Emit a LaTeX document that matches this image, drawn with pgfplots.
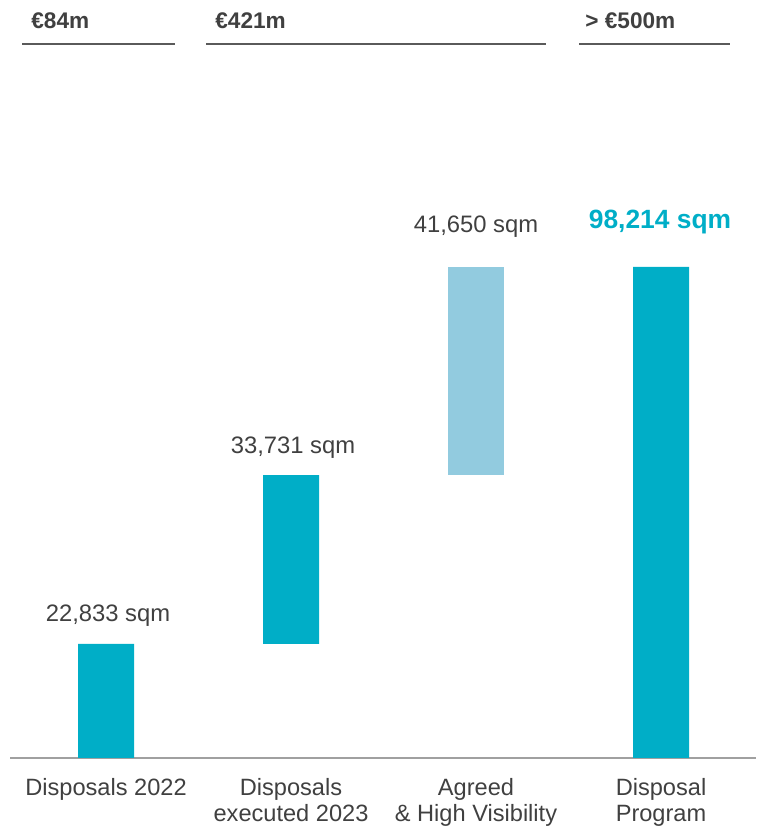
\documentclass[border=0pt]{standalone}
\usepackage{fontspec}
\setmainfont{Liberation Sans}
\usepackage{pgfplots}
\pgfplotsset{compat=1.18}
\definecolor{myteal}{RGB}{0,174,199}
\definecolor{lightb}{RGB}{146,203,223}
\definecolor{txt}{RGB}{64,64,64}
\definecolor{hline}{RGB}{90,90,90}
\definecolor{bline}{RGB}{160,160,160}
\tikzset{
  hdr/.style={font=\fontsize{11.3}{13}\selectfont\bfseries, text=txt, anchor=west, inner sep=0pt},
  val/.style={font=\fontsize{11.9}{13}\selectfont, text=txt, inner sep=0pt},
  cat/.style={font=\fontsize{11.8}{12.6}\selectfont, text=txt, inner sep=0pt, align=center, anchor=north},
}
\begin{document}
\begin{tikzpicture}
\begin{axis}[
  width=378pt, height=413.5pt, scale only axis,
  xmin=0, xmax=756, ymin=-13800, ymax=151600,
  hide axis, clip=false,
  ybar stacked, bar width=56,
]
\addplot[draw=none, fill=white, fill opacity=0] coordinates {(106,0) (291,22833) (476,56564) (661,0)};
\addplot[draw=none, fill=myteal] coordinates {(106,22833) (291,33731) (476,0) (661,98214)};
\addplot[draw=none, fill=lightb] coordinates {(106,0) (291,0) (476,41650) (661,0)};
\draw[bline, line width=1pt] (axis cs:10,0) -- (axis cs:756,0);
\draw[hline, line width=1pt] (axis cs:22,142800) -- (axis cs:175,142800);
\draw[hline, line width=1pt] (axis cs:206,142800) -- (axis cs:546,142800);
\draw[hline, line width=1pt] (axis cs:579,142800) -- (axis cs:730,142800);
\node[hdr] at (axis cs:31,147400) {€84m};
\node[hdr] at (axis cs:215,147400) {€421m};
\node[hdr] at (axis cs:585,147400) {> €500m};
\node[val] at (axis cs:108,28400) {22,833 sqm};
\node[val] at (axis cs:293,62000) {33,731 sqm};
\node[val] at (axis cs:476,106200) {41,650 sqm};
\node[font=\fontsize{13.2}{15}\selectfont\bfseries, text=myteal, inner sep=0pt] at (axis cs:660,107200) {98,214 sqm};
\node[cat] at (axis cs:106,-4100) {Disposals 2022};
\node[cat] at (axis cs:291,-4100) {Disposals\\executed 2023};
\node[cat] at (axis cs:476,-4100) {Agreed\\\& High Visibility};
\node[cat] at (axis cs:661,-4100) {Disposal\\Program};
\end{axis}
\path (current axis.south west) rectangle (current axis.north east);
\end{tikzpicture}
\end{document}
